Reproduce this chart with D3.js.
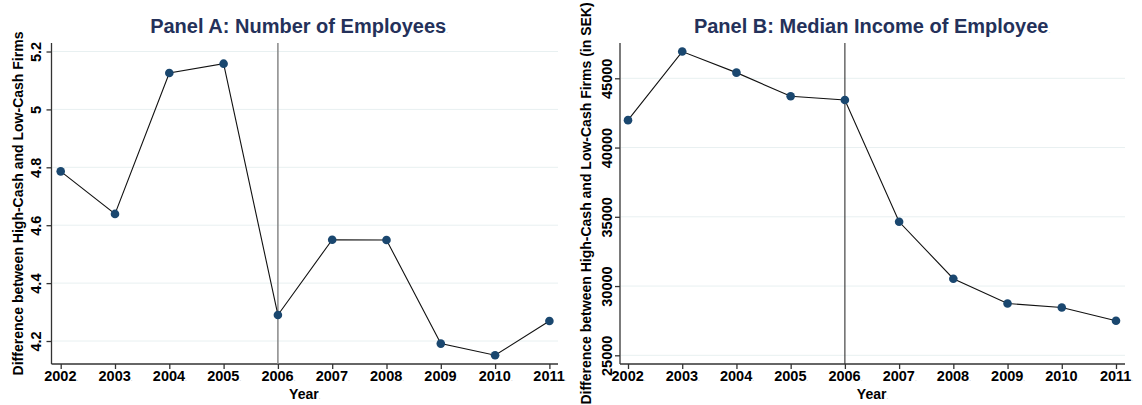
<!DOCTYPE html>
<meta charset="utf-8">
<style>
body { margin: 0; background: #fff; }
svg { display: block; font-family: "Liberation Sans", Arial, sans-serif; }
.grid line { stroke: #e8f0f1; stroke-width: 1; }
.axis path, .axis line { stroke: #333; stroke-width: 1.3; }
.axis text { font-size: 14.5px; font-weight: bold; fill: #000; }
.title { font-size: 20px; font-weight: bold; fill: #24315a; }
.axtitle { font-size: 14px; font-weight: bold; fill: #000; }
.dot { font-size: 6px; fill: #999; font-weight: normal; }
</style>
<body>
<svg width="1142" height="405"></svg>
</body>
<script src="https://d3js.org/d3.v7.min.js"></script>
<script>

// data
var years = [2002, 2003, 2004, 2005, 2006, 2007, 2008, 2009, 2010, 2011];
var employees = [4.786, 4.639, 5.126, 5.158, 4.290, 4.550, 4.549, 4.191, 4.151, 4.269];
var income = [41980, 46930, 45410, 43700, 43430, 34640, 30530, 28740, 28450, 27490];
var empTicks = [4.2, 4.4, 4.6, 4.8, 5, 5.2];
var incTicks = [25000, 30000, 35000, 40000, 45000];
var eventYear = 2006;

var svg = d3.select("svg");

function drawPanel(p) {
  var x = d3.scaleLinear().domain([2002, 2011]).range([p.x0, p.x1]);
  var y = d3.scaleLinear().domain(p.ydom).range([364, 43]);

  var g = svg.append("g");

  // gridlines
  g.append("g").attr("class", "grid")
    .selectAll("line")
    .data(p.ticks)
    .enter().append("line")
      .attr("x1", p.left + 1).attr("x2", p.right)
      .attr("y1", function(d) { return y(d); })
      .attr("y2", function(d) { return y(d); });

  // x axis
  var xa = g.append("g")
      .attr("class", "axis")
      .attr("transform", "translate(0,364)")
      .call(d3.axisBottom(x).tickValues(years).tickSize(5).tickSizeOuter(0).tickFormat(d3.format("d")));
  xa.select(".domain").attr("d", "M" + p.left + ",0H" + p.right);
  xa.selectAll("text").attr("y", 7).attr("dy", "0.71em")
    .append("tspan").attr("class", "dot").text(".");

  // y axis
  var ya = g.append("g")
      .attr("class", "axis")
      .attr("transform", "translate(" + p.left + ",0)")
      .call(d3.axisLeft(y).tickValues(p.ticks).tickSize(5).tickSizeOuter(0)
        .tickFormat(function(d) { return String(d); }));
  ya.select(".domain").attr("d", "M0,43V364");
  ya.selectAll("text")
      .attr("transform", "rotate(-90)")
      .attr("x", 0).attr("y", -p.tickGap).attr("dy", 0)
      .attr("text-anchor", "middle");

  // vertical line at 2006
  g.append("line")
      .attr("x1", x(eventYear)).attr("x2", x(eventYear))
      .attr("y1", 43).attr("y2", 364)
      .attr("stroke", p.vcol).attr("stroke-width", p.vw);

  // connected line + markers
  var line = d3.line()
      .x(function(d, i) { return x(years[i]); })
      .y(function(d) { return y(d); });

  g.append("path")
      .datum(p.values)
      .attr("fill", "none")
      .attr("stroke", "#111")
      .attr("stroke-width", 1.1)
      .attr("d", line);

  g.selectAll(".pt")
    .data(p.values)
    .enter().append("circle")
      .attr("class", "pt")
      .attr("cx", function(d, i) { return x(years[i]); })
      .attr("cy", function(d) { return y(d); })
      .attr("r", 4.3)
      .attr("fill", "#1a476f");

  // titles
  var t = g.append("text").attr("class", "title")
      .attr("x", p.tx).attr("y", 33).attr("text-anchor", "middle")
      .text(p.title);
  t.append("tspan").attr("class", "dot").text(".");

  var xt = g.append("text").attr("class", "axtitle")
      .attr("x", (p.left + p.right) / 2).attr("y", 399).attr("text-anchor", "middle")
      .text("Year");
  xt.append("tspan").attr("class", "dot").text(".");

  g.append("text").attr("class", "axtitle")
      .attr("transform", "translate(" + p.ylx + ",203.5) rotate(-90)")
      .attr("text-anchor", "middle")
      .text(p.ylabel);
}

drawPanel({
  left: 51.5, right: 558, x0: 60.7, x1: 549.4,
  ydom: [4.1206, 5.2294], ticks: empTicks, values: employees,
  tickGap: 10.5, vcol: "#888", vw: 1.5,
  tx: 299, title: "Panel A: Number of Employees",
  ylx: 23, ylabel: "Difference between High-Cash and Low-Cash Firms"
});

drawPanel({
  left: 620, right: 1125, x0: 628, x1: 1116,
  ydom: [24372, 47549], ticks: incTicks, values: income,
  tickGap: 8, vcol: "#333", vw: 1.1,
  tx: 872, title: "Panel B: Median Income of Employee",
  ylx: 591, ylabel: "Difference between High-Cash and Low-Cash Firms (in SEK)"
});

</script>
